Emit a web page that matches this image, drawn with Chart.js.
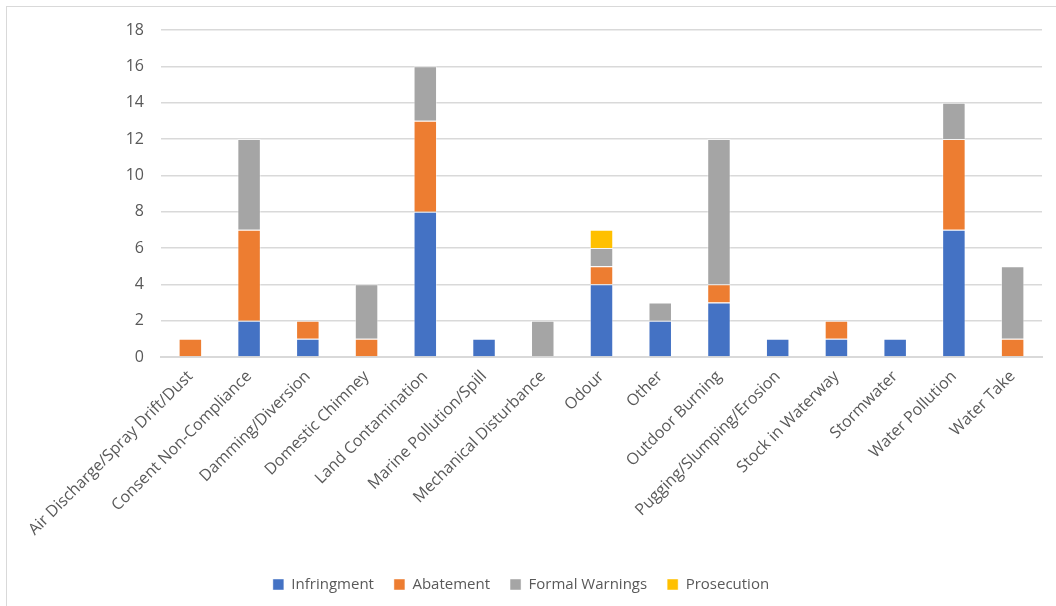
<!DOCTYPE html>
<html>
<head>
<meta charset="utf-8">
<title>Compliance actions by incident type</title>
<script src="https://cdn.jsdelivr.net/npm/chart.js@4"></script>
<style>
  html, body { margin: 0; padding: 0; background: #fff; }
  .frame {
    position: absolute; left: 6px; top: 6px; width: 1056px; height: 606px;
    border: 1px solid #d9d9d9; box-sizing: border-box;
  }
  #wrap { position: absolute; left: 0; top: 0; width: 1056px; height: 606px; }
</style>
</head>
<body>
<div class="frame"></div>
<div id="wrap"><canvas id="actionsChart"></canvas></div>
<script>
const categories = [
  'Air Discharge/Spray Drift/Dust', 'Consent Non-Compliance', 'Damming/Diversion',
  'Domestic Chimney', 'Land Contamination', 'Marine Pollution/Spill',
  'Mechanical Disturbance', 'Odour', 'Other', 'Outdoor Burning',
  'Pugging/Slumping/Erosion', 'Stock in Waterway', 'Stormwater',
  'Water Pollution', 'Water Take'
];
const infringment    = [0, 2, 1, 0, 8, 1, 0, 4, 2, 3, 1, 1, 1, 7, 0];
const abatement      = [1, 5, 1, 1, 5, 0, 0, 1, 0, 1, 0, 1, 0, 5, 1];
const formalWarnings = [0, 5, 0, 3, 3, 0, 2, 1, 1, 8, 0, 0, 0, 2, 4];
const prosecution    = [0, 0, 0, 0, 0, 0, 0, 1, 0, 0, 0, 0, 0, 0, 0];
const yTicks = [0, 2, 4, 6, 8, 10, 12, 14, 16, 18];

const textColor = '#595959';
const gridColor = '#d9d9d9';
const axisFont = { family: '"Open Sans", sans-serif', size: 16 };
const legendFont = { family: '"Open Sans", sans-serif', size: 15 };

function series(label, data, color) {
  return {
    label,
    data,
    backgroundColor: color,
    borderColor: 'rgba(255,255,255,0.45)',
    borderWidth: 1,
    borderSkipped: 'bottom',
    barPercentage: 0.4,
    categoryPercentage: 1,
  };
}

new Chart(document.getElementById('actionsChart'), {
  type: 'bar',
  data: {
    labels: categories,
    datasets: [
      series('Infringment', infringment, '#4472C4'),
      series('Abatement', abatement, '#ED7D31'),
      series('Formal Warnings', formalWarnings, '#A5A5A5'),
      series('Prosecution', prosecution, '#FFC000'),
    ],
  },
  options: {
    responsive: true,
    maintainAspectRatio: false,
    animation: false,
    layout: { padding: { top: 30, left: 0, right: 14, bottom: 4 } },
    plugins: {
      tooltip: { enabled: false },
      legend: {
        position: 'bottom',
        labels: {
          color: textColor,
          font: legendFont,
          boxWidth: 11,
          boxHeight: 11,
          padding: 20,
        },
      },
    },
    scales: {
      x: {
        stacked: true,
        grid: { display: false },
        border: { color: gridColor, width: 2 },
        ticks: {
          color: textColor,
          font: axisFont,
          minRotation: 45,
          maxRotation: 45,
          autoSkip: false,
          padding: 2,
        },
        afterFit: (scale) => { scale.height = 200; },
      },
      y: {
        stacked: true,
        min: 0,
        max: 18,
        afterBuildTicks: (scale) => { scale.ticks = yTicks.map((v) => ({ value: v })); },
        grid: { color: gridColor, lineWidth: 1.5, drawTicks: false },
        border: { display: false },
        ticks: { color: textColor, font: axisFont, padding: 17 },
        afterFit: (scale) => { scale.width = 161; },
      },
    },
  },
});
</script>
</body>
</html>
